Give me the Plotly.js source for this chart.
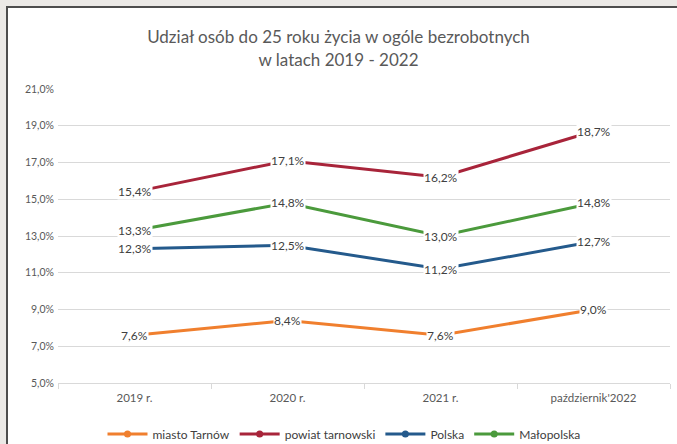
<!DOCTYPE html>
<html>
<head>
<meta charset="utf-8">
<script src="https://cdn.plot.ly/plotly-3.0.1.min.js"></script>
<style>
html,body{margin:0;padding:0;background:#ffffff;overflow:hidden;}
#chart{width:677px;height:444px;}
</style>
</head>
<body>
<div id="chart"></div>
<script>
const categories = ["2019 r.", "2020 r.", "2021 r.", "październik'2022"];
const seriesNames = ["miasto Tarnów", "powiat tarnowski", "Polska", "Małopolska"];
const tarnow = [7.6, 8.4, 7.6, 9.0];
const powiat = [15.4, 17.1, 16.2, 18.7];
const polska = [12.3, 12.5, 11.2, 12.7];
const malopolska = [13.3, 14.8, 13.0, 14.8];
const seriesColors = ["#f07f2e", "#a8243a", "#245a8c", "#4b9a3c"];
const yTicks = [5, 7, 9, 11, 13, 15, 17, 19, 21];

const allValues = [tarnow, powiat, polska, malopolska];
const fontFam = "Lato, 'Open Sans', sans-serif";

const W = 677, H = 444, ML = 58, MR = 7, MT = 89, MB = 61;
const pw = W - ML - MR, ph = H - MT - MB;
const px2x = p => (p - ML) / pw;
const py2y = p => (H - MB - p) / ph;

const traces = allValues.map((vals, k) => ({
  type: "scatter",
  mode: "lines+markers",
  x: categories,
  y: vals,
  name: seriesNames[k],
  line: {color: seriesColors[k], width: 3},
  marker: {color: seriesColors[k], size: 7},
  hoverinfo: "none"
}));

const fmt = v => v.toFixed(1).replace(".", ",") + "%";
const annotations = [];
allValues.forEach(vals => {
  vals.forEach((v, i) => {
    annotations.push({
      x: categories[i], y: v, xref: "x", yref: "y",
      text: fmt(v), showarrow: false,
      xanchor: "center", yanchor: "middle",
      bgcolor: "#ffffff", borderpad: 0,
      font: {family: fontFam, size: 12, color: "#404040"}
    });
  });
});

const shapes = [
  {type: "rect", xref: "paper", yref: "paper", layer: "below",
   x0: px2x(6), x1: px2x(680), y0: py2y(448), y1: py2y(6),
   fillcolor: "#ffffff", line: {width: 0}},
  {type: "line", xref: "paper", yref: "paper", layer: "below",
   x0: px2x(7), x1: px2x(680), y0: py2y(7), y1: py2y(7),
   line: {color: "#4d4d4d", width: 2}},
  {type: "line", xref: "paper", yref: "paper", layer: "below",
   x0: px2x(7), x1: px2x(7), y0: py2y(6), y1: py2y(448),
   line: {color: "#4d4d4d", width: 2}}
];

const TITLE_CENTER = 48;   // target vertical centre of the two-line title block (px)
const LEGEND_CENTER = 434; // target vertical centre of the legend row (px)

const layout = {
  width: W, height: H,
  paper_bgcolor: "#ebe9e6",
  plot_bgcolor: "rgba(0,0,0,0)",
  margin: {l: ML, r: MR, t: MT, b: MB, autoexpand: false},
  separators: ", ",
  title: {
    text: "Udział osób do 25 roku życia w ogóle bezrobotnych<br>w latach 2019 - 2022",
    x: 0.5, xanchor: "center", xref: "container",
    yref: "container", y: 1 - TITLE_CENTER / H, yanchor: "middle",
    font: {family: fontFam, size: 17, color: "#595959"}
  },
  xaxis: {
    type: "category",
    range: [-0.5, 3.5],
    tickson: "boundaries",
    ticks: "outside", ticklen: 5, tickcolor: "#d9d9d9",
    tickangle: 0,
    showgrid: false,
    showline: true, linecolor: "#d9d9d9", linewidth: 1,
    ticklabelstandoff: 4,
    tickfont: {family: fontFam, size: 11.5, color: "#595959"},
    fixedrange: true
  },
  yaxis: {
    range: [5, 21],
    tickvals: yTicks,
    ticktext: yTicks.map(t => t.toFixed(1).replace(".", ",") + "%"),
    showgrid: true, gridcolor: "#d9d9d9", gridwidth: 1,
    zeroline: false, showline: false,
    ticks: "", ticklabelstandoff: 3,
    tickfont: {family: fontFam, size: 10.5, color: "#595959"},
    fixedrange: true
  },
  legend: {
    orientation: "h",
    x: px2x(344), xanchor: "center",
    y: py2y(LEGEND_CENTER), yanchor: "middle",
    bgcolor: "rgba(0,0,0,0)",
    font: {family: fontFam, size: 12, color: "#404040"},
    itemwidth: 40,
    traceorder: "normal"
  },
  shapes: shapes,
  annotations: annotations,
  showlegend: true
};

Plotly.newPlot("chart", traces, layout, {displayModeBar: false, staticPlot: true}).then(gd => {
  const t = gd.querySelector(".gtitle");
  if (t) {
    const r = t.getBoundingClientRect();
    const c = (r.top + r.bottom) / 2;
    const diff = TITLE_CENTER - c;
    if (Math.abs(diff) > 0.5) {
      return Plotly.relayout(gd, {"title.y": 1 - (TITLE_CENTER + diff) / H});
    }
  }
});
</script>
</body>
</html>
